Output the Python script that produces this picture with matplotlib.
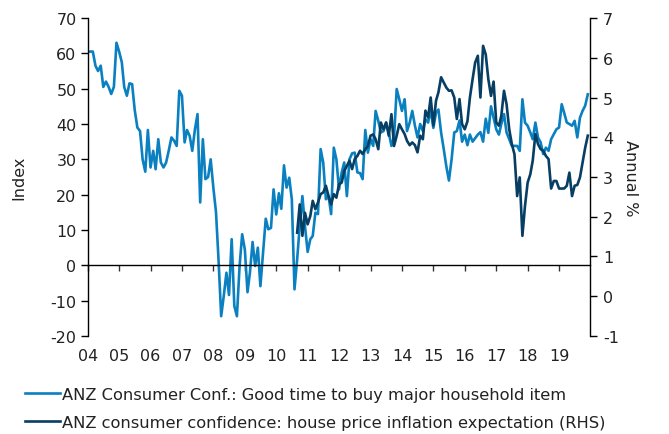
import numpy as np
import pandas as pd
import matplotlib
matplotlib.use("Agg")
import matplotlib.pyplot as plt

# ---- data -------------------------------------------------------------
start_month = "2004-01-01"
household_item = [
    60.5, 60.5, 60.5, 56.5, 55.0, 56.5, 50.5, 52.0, 50.5, 48.5, 50.5, 63.0,
    60.5, 57.5, 50.5, 48.0, 51.5, 51.3, 44.0, 39.0, 38.0, 30.0, 26.5, 38.3,
    27.7, 32.4, 27.2, 35.7, 29.1, 27.7, 29.1, 32.5, 36.2, 35.3, 33.8, 49.4,
    48.0, 34.8, 38.3, 36.6, 32.4, 38.5, 42.8, 17.8, 35.7, 24.4, 25.0, 30.0,
    22.0, 15.0, 1.7, -14.4, -8.7, -2.1, -8.4, 7.4, -11.5, -14.4, -0.2, 8.8,
    4.5, -7.6, -2.1, 6.6, -0.2, 5.0, -5.9, 3.6, 13.2, 10.2, 10.6, 21.5,
    14.4, 20.4, 16.0, 28.3, 22.0, 24.8, 18.7, -6.8, 1.7, 11.1, 19.6, 11.1,
    3.8, 7.4, 8.3, 14.9, 14.5, 32.9, 29.1, 18.7, 19.6, 14.5, 33.3, 30.0,
    21.5, 26.3, 29.1, 19.6, 30.0, 31.7, 31.9, 26.3, 26.1, 24.4, 38.3, 31.9,
    35.7, 33.8, 43.7, 40.9, 37.6, 38.0, 40.4, 37.6, 33.8, 36.2, 49.9, 47.0,
    43.7, 47.0, 38.0, 40.4, 43.7, 39.5, 36.2, 40.0, 38.0, 41.4, 40.4, 44.1,
    38.9, 43.2, 44.1, 37.6, 33.0, 28.0, 24.0, 30.0, 37.6, 38.0, 41.0, 35.0,
    37.0, 34.0, 37.0, 35.0, 36.0, 37.0, 37.7, 35.0, 41.5, 37.5, 45.0, 41.8,
    38.5, 37.0, 40.0, 42.8, 37.6, 35.7, 33.8, 33.8, 33.8, 32.4, 47.0, 40.4,
    39.5, 37.6, 35.7, 40.4, 36.2, 34.8, 31.5, 33.3, 32.4, 35.7, 37.1, 38.5,
    39.0, 45.6, 43.2, 40.4, 40.0, 39.5, 40.9, 36.2, 41.8, 43.7, 45.2, 48.4,
]
house_price_start = "2010-09-01"
house_price_exp = [
    1.60, 2.31, 1.52, 2.10, 1.81, 2.02, 2.40, 2.19, 2.36, 2.57, 2.61, 2.78,
    2.52, 2.31, 2.57, 2.48, 2.82, 2.86, 3.15, 3.28, 3.41, 3.20, 3.45, 3.53,
    3.66, 3.58, 3.70, 3.78, 4.04, 4.07, 3.95, 3.70, 4.37, 4.20, 4.37, 4.04,
    4.58, 3.78, 4.04, 4.33, 4.20, 4.08, 3.91, 3.80, 3.87, 3.80, 3.62, 4.04,
    3.95, 4.67, 4.50, 5.00, 4.30, 4.92, 5.13, 5.51, 5.38, 5.25, 5.17, 5.18,
    5.00, 4.46, 4.96, 4.33, 4.20, 4.40, 5.00, 5.46, 5.88, 6.05, 5.00, 6.30,
    6.08, 5.46, 5.04, 5.40, 4.37, 4.29, 4.54, 5.17, 4.83, 4.20, 3.83, 3.57,
    2.52, 2.99, 1.52, 2.27, 2.86, 3.07, 3.41, 4.08, 3.83, 3.70, 3.66, 3.53,
    3.45, 2.71, 2.90, 2.90, 2.71, 2.71, 2.71, 2.78, 3.11, 2.52, 2.78, 2.80,
    2.99, 3.36, 3.74, 4.04,
]
year_labels = ["04", "05", "06", "07", "08", "09", "10", "11", "12", "13",
               "14", "15", "16", "17", "18", "19"]
label_a = "ANZ Consumer Conf.: Good time to buy major household item"
label_b = "ANZ consumer confidence: house price inflation expectation (RHS)"

# ---- figure -----------------------------------------------------------
plt.rcParams["font.family"] = ["DejaVu Sans"]
plt.rcParams["axes.unicode_minus"] = False
FS = 11.5
LFS = 11.7
TXT = "#222222"
LIGHT = "#0A80C0"
DARK = "#073E63"

fig = plt.figure(figsize=(6.69, 4.35), dpi=100)
ax = fig.add_axes([0.131, 0.2253, 0.7516, 0.731])
ax2 = ax.twinx()

dates_a = pd.date_range(start_month, periods=len(household_item), freq="MS")
dates_b = pd.date_range(house_price_start, periods=len(house_price_exp), freq="MS")

la, = ax.plot(dates_a, household_item, color=LIGHT, lw=1.9, solid_joinstyle="round")
lb, = ax2.plot(dates_b, house_price_exp, color=DARK, lw=1.9, solid_joinstyle="round")

ax.set_xlim(pd.Timestamp("2004-01-01"), pd.Timestamp("2020-01-01"))
ax.set_ylim(-20, 70)
ax2.set_ylim(-1, 7)
ax.set_yticks(np.arange(-20, 71, 10))
ax2.set_yticks(np.arange(-1, 8, 1))

# spines
ax.spines["top"].set_visible(False)
ax2.spines["top"].set_visible(False)
ax2.spines["left"].set_visible(False)
ax2.spines["bottom"].set_visible(False)
ax.spines["right"].set_visible(False)
ax.spines["bottom"].set_position(("data", 0))
for sp in [ax.spines["left"], ax.spines["bottom"], ax2.spines["right"]]:
    sp.set_color("black")
    sp.set_linewidth(1.0)

year_ticks = pd.date_range("2004-01-01", periods=len(year_labels), freq="YS")
ax.set_xticks(year_ticks)
ax.set_xticklabels([])
ax.tick_params(axis="x", direction="out", length=4.5, width=1.0, color="#333333")
ax.tick_params(axis="y", direction="out", length=5, width=1.0, labelsize=FS,
               pad=3, labelcolor=TXT)
ax2.tick_params(axis="y", direction="out", length=5, width=1.0, labelsize=FS,
                pad=4, labelcolor=TXT)

sec = ax.secondary_xaxis("bottom")
sec.set_xticks(year_ticks)
sec.set_xticklabels(year_labels)
sec.tick_params(length=0, labelsize=FS, pad=9, labelcolor=TXT)
sec.spines["bottom"].set_visible(False)

ax.set_ylabel("Index", fontsize=FS, labelpad=17, color=TXT)
ax2.set_ylabel("Annual %", fontsize=FS, rotation=270, labelpad=14, color=TXT)

leg = fig.legend([la, lb], [label_a, label_b], loc="upper left",
                 bbox_to_anchor=(0.037, 0.109), frameon=False, fontsize=LFS,
                 handlelength=2.15, handletextpad=0.12, labelspacing=0.82,
                 borderaxespad=0, borderpad=0)
for t in leg.get_texts():
    t.set_color(TXT)

fig.savefig("out.png", dpi=100)
